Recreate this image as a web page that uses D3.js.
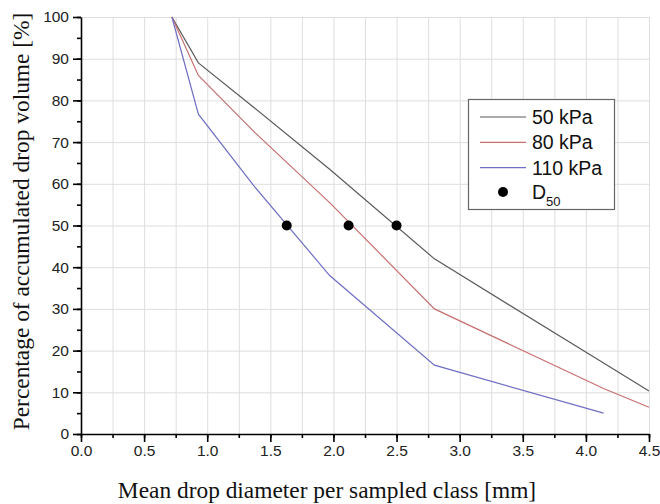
<!DOCTYPE html>
<html>
<head>
<meta charset="utf-8">
<script src="https://cdn.jsdelivr.net/npm/d3@7"></script>
<style>
  body { margin: 0; background: #fff; }
  .axis path, .axis line { stroke: #000; }
  .axis text { font-family: "Liberation Sans", Arial, sans-serif; font-size: 15.5px; fill: #222; }
  .grid line { stroke: #dedede; stroke-width: 1; }
  .grid path { display: none; }
  .title { font-family: "Liberation Serif", "Times New Roman", serif; font-size: 23.4px; fill: #111; }
  .legend text { font-family: "Liberation Sans", Arial, sans-serif; font-size: 19.5px; fill: #111; }
</style>
</head>
<body>
<div class="drop-chart"></div>
<script>
// drop size classes (mean diameter, mm)
var diam = [0.72, 0.93, 1.37, 1.97, 2.8, 4.14, 4.5];
var kpa50 = [100, 89, 78.3, 63.5, 42, 17, 10.3];
var kpa80 = [100, 86, 72.5, 55.5, 30, 10.9, 6.4];
var kpa110 = [100, 76.7, 59.5, 38, 16.5, 5];
var seriesNames = ["50 kPa", "80 kPa", "110 kPa"];
var seriesColors = ["#5a5a5a", "#c87070", "#6e6ec4"];
var d50x = [1.63, 2.12, 2.5];
var d50y = [50, 50, 50];
var xTicks = [0, 0.5, 1, 1.5, 2, 2.5, 3, 3.5, 4, 4.5];
var yTicks = [0, 10, 20, 30, 40, 50, 60, 70, 80, 90, 100];

var width = 660, height = 504;
var margin = {left: 81, right: 11, top: 17, bottom: 70};

var svg = d3.select(".drop-chart").append("svg")
    .attr("width", width)
    .attr("height", height);

var x = d3.scaleLinear().domain([0, 4.5])
    .range([margin.left, width - margin.right]);
var y = d3.scaleLinear().domain([0, 100])
    .range([height - margin.bottom, margin.top]);

var minorX = d3.range(0, 4.5001, 0.25);
var minorY = d3.range(0, 100.001, 5);

// grid
svg.append("g")
    .attr("class", "grid")
    .attr("transform", "translate(0," + y(0) + ")")
    .call(d3.axisBottom(x).tickValues(minorX.slice(1))
      .tickSize(-(y(0) - y(100))).tickFormat(""));
svg.append("g")
    .attr("class", "grid")
    .attr("transform", "translate(" + x(0) + ",0)")
    .call(d3.axisLeft(y).tickValues(yTicks.slice(1))
      .tickSize(-(x(4.5) - x(0))).tickFormat(""));

// lines
var line = d3.line()
    .x(function(d) { return x(d[0]); })
    .y(function(d) { return y(d[1]); });

[kpa50, kpa80, kpa110].forEach(function(vals, i) {
  svg.append("path")
      .datum(vals.map(function(v, j) { return [diam[j], v]; }))
      .attr("fill", "none")
      .attr("stroke", seriesColors[i])
      .attr("stroke-width", 1.2)
      .attr("d", line);
});

// D50 markers
svg.selectAll("circle.d50")
    .data(d50x)
    .enter().append("circle")
    .attr("class", "d50")
    .attr("cx", function(d) { return x(d); })
    .attr("cy", function(d, i) { return y(d50y[i]); })
    .attr("r", 5)
    .attr("fill", "#000");

// axes (minor ticks first, then labelled majors)
svg.append("g")
    .attr("class", "axis")
    .attr("transform", "translate(0," + y(0) + ")")
    .call(d3.axisBottom(x).tickValues(minorX).tickSize(4).tickFormat(""))
    .call(function(g) { g.select(".domain").remove(); });
svg.append("g")
    .attr("class", "axis")
    .attr("transform", "translate(" + x(0) + ",0)")
    .call(d3.axisLeft(y).tickValues(minorY).tickSize(4).tickFormat(""))
    .call(function(g) { g.select(".domain").remove(); });

svg.append("g")
    .attr("class", "axis")
    .attr("transform", "translate(0," + y(0) + ")")
    .call(d3.axisBottom(x).tickValues(xTicks).tickSize(8).tickPadding(3)
      .tickSizeOuter(0).tickFormat(d3.format(".1f")));
svg.append("g")
    .attr("class", "axis")
    .attr("transform", "translate(" + x(0) + ",0)")
    .call(d3.axisLeft(y).tickValues(yTicks).tickSize(8).tickPadding(4)
      .tickSizeOuter(0));
svg.selectAll(".axis path, .axis line").attr("stroke-width", 1.6);

// titles
svg.append("text")
    .attr("class", "title")
    .attr("x", 327)
    .attr("y", 498)
    .attr("text-anchor", "middle")
    .text("Mean drop diameter per sampled class [mm]");
svg.append("text")
    .attr("class", "title")
    .attr("transform", "translate(29," + (y(50) - 4) + ")rotate(-90)")
    .attr("text-anchor", "middle")
    .text("Percentage of accumulated drop volume [%]");

// legend
var lg = svg.append("g").attr("class", "legend");
lg.append("rect")
    .attr("x", 468.5).attr("y", 99.5)
    .attr("width", 146).attr("height", 110)
    .attr("fill", "#fff")
    .attr("stroke", "#666")
    .attr("stroke-width", 1.2);
seriesNames.forEach(function(name, i) {
  var ly = 117 + i * 25.3;
  lg.append("line")
      .attr("x1", 480).attr("x2", 526)
      .attr("y1", ly).attr("y2", ly)
      .attr("stroke", seriesColors[i])
      .attr("stroke-width", 1.2);
  lg.append("text")
      .attr("x", 532).attr("y", ly + 7)
      .text(name);
});
lg.append("circle")
    .attr("cx", 503).attr("cy", 192)
    .attr("r", 5).attr("fill", "#000");
var dt = lg.append("text").attr("x", 532).attr("y", 199);
dt.append("tspan").text("D");
dt.append("tspan").attr("dy", 7).style("font-size", "13px").text("50");
</script>
</body>
</html>
